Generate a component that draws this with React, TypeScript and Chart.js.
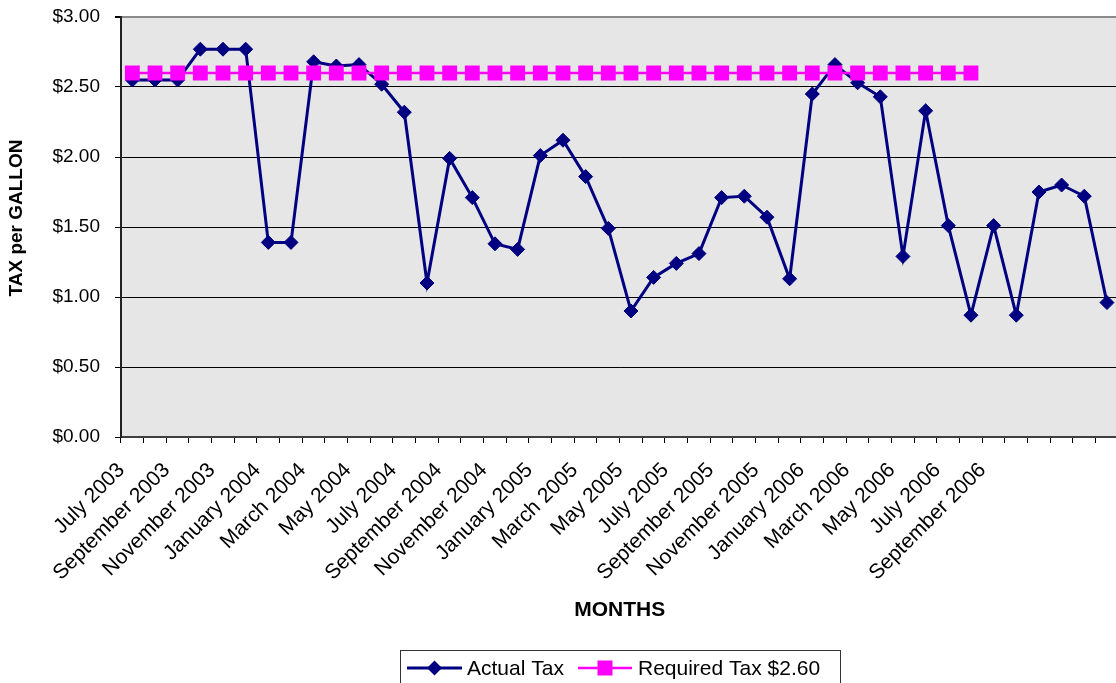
import React, { useEffect, useRef } from "react";
import { Chart, registerables } from "chart.js";

Chart.register(...registerables);

const categories: string[] = [
  "July 2003", "August 2003", "September 2003", "October 2003", "November 2003", "December 2003",
  "January 2004", "February 2004", "March 2004", "April 2004", "May 2004", "June 2004",
  "July 2004", "August 2004", "September 2004", "October 2004", "November 2004", "December 2004",
  "January 2005", "February 2005", "March 2005", "April 2005", "May 2005", "June 2005",
  "July 2005", "August 2005", "September 2005", "October 2005", "November 2005", "December 2005",
  "January 2006", "February 2006", "March 2006", "April 2006", "May 2006", "June 2006",
  "July 2006", "August 2006", "September 2006", "", "", "", "", "",
];

const actualTax: number[] = [
  2.55, 2.55, 2.55, 2.77, 2.77, 2.77, 1.39, 1.39, 2.68, 2.65, 2.66, 2.52,
  2.32, 1.10, 1.99, 1.71, 1.38, 1.34, 2.01, 2.12, 1.86, 1.49, 0.90, 1.14,
  1.24, 1.31, 1.71, 1.72, 1.57, 1.13, 2.45, 2.66, 2.53, 2.43, 1.29, 2.33,
  1.51, 0.87, 1.51, 0.87, 1.75, 1.80, 1.72, 0.96,
];

const requiredTax: (number | null)[] = [
  2.6, 2.6, 2.6, 2.6, 2.6, 2.6, 2.6, 2.6, 2.6, 2.6, 2.6, 2.6,
  2.6, 2.6, 2.6, 2.6, 2.6, 2.6, 2.6, 2.6, 2.6, 2.6, 2.6, 2.6,
  2.6, 2.6, 2.6, 2.6, 2.6, 2.6, 2.6, 2.6, 2.6, 2.6, 2.6, 2.6,
  2.6, 2.6, null, null, null, null, null, null,
];

const seriesNames = ["Actual Tax", "Required Tax $2.60"];
const xTitle = "MONTHS";
const yTitle = "TAX per GALLON";

const FONT = "'Liberation Sans', Arial, Helvetica, sans-serif";
const NAVY = "#000080";
const MAGENTA = "#FF00FF";

export default function App() {
  const ref = useRef<HTMLCanvasElement>(null);

  useEffect(() => {
    const canvas = ref.current;
    if (!canvas) return;

    const decor = {
      id: "decor",
      beforeDraw(chart: any) {
        const { ctx, chartArea: a } = chart;
        ctx.save();
        ctx.fillStyle = "#e6e6e6";
        ctx.fillRect(a.left, a.top, a.right - a.left, a.bottom - a.top);
        ctx.restore();
      },
      afterDraw(chart: any) {
        const { ctx, chartArea: a } = chart;
        ctx.save();
        ctx.fillStyle = "#000";
        ctx.font = `bold 19px ${FONT}`;
        ctx.textAlign = "center";
        ctx.textBaseline = "middle";
        ctx.translate(17, 218);
        ctx.rotate(-Math.PI / 2);
        ctx.fillText(yTitle, 0, 0);
        ctx.restore();

        ctx.save();
        ctx.fillStyle = "#000";
        ctx.font = `bold 21px ${FONT}`;
        ctx.textAlign = "center";
        ctx.textBaseline = "alphabetic";
        ctx.fillText(xTitle, (a.left + a.right) / 2, 616);
        ctx.restore();

        // Legend
        ctx.save();
        ctx.strokeStyle = "#333";
        ctx.lineWidth = 1;
        ctx.fillStyle = "#fff";
        ctx.fillRect(400.5, 650.5, 440, 50);
        ctx.strokeRect(400.5, 650.5, 440, 50);
        const ly = 668;
        ctx.strokeStyle = NAVY;
        ctx.lineWidth = 3;
        ctx.beginPath();
        ctx.moveTo(407, ly);
        ctx.lineTo(462, ly);
        ctx.stroke();
        ctx.fillStyle = NAVY;
        ctx.beginPath();
        const dx = 434.5, r = 7.5;
        ctx.moveTo(dx - r, ly);
        ctx.lineTo(dx, ly - r);
        ctx.lineTo(dx + r, ly);
        ctx.lineTo(dx, ly + r);
        ctx.closePath();
        ctx.fill();
        ctx.strokeStyle = MAGENTA;
        ctx.lineWidth = 2.5;
        ctx.beginPath();
        ctx.moveTo(578, ly);
        ctx.lineTo(632, ly);
        ctx.stroke();
        ctx.fillStyle = MAGENTA;
        ctx.fillRect(605 - 7.5, ly - 7.5, 15, 15);
        ctx.fillStyle = "#000";
        ctx.font = `21px ${FONT}`;
        ctx.textAlign = "left";
        ctx.textBaseline = "alphabetic";
        ctx.fillText(seriesNames[0], 467, 675);
        ctx.fillText(seriesNames[1], 638, 675);
        ctx.restore();
      },
    };

    const chart = new Chart(canvas, {
      type: "line",
      data: {
        labels: categories,
        datasets: [
          {
            label: seriesNames[0],
            data: actualTax,
            borderColor: NAVY,
            backgroundColor: NAVY,
            borderWidth: 3,
            pointStyle: "rectRot",
            pointRadius: 7,
            pointBorderWidth: 1,
            pointBackgroundColor: NAVY,
            pointBorderColor: NAVY,
            tension: 0,
            order: 1,
          },
          {
            label: seriesNames[1],
            data: requiredTax,
            borderColor: MAGENTA,
            backgroundColor: MAGENTA,
            borderWidth: 2.5,
            pointStyle: "rect",
            pointRadius: 10.5,
            pointBorderWidth: 0,
            pointBackgroundColor: MAGENTA,
            pointBorderColor: MAGENTA,
            tension: 0,
            spanGaps: false,
            order: 0,
          },
        ],
      },
      options: {
        animation: false,
        responsive: false,
        maintainAspectRatio: false,
        events: [],
        layout: { padding: { left: 0, top: 17, right: 20, bottom: 113 } },
        plugins: {
          legend: { display: false },
          tooltip: { enabled: false },
          title: { display: false },
        },
        scales: {
          x: {
            type: "category",
            offset: true,
            grid: {
              offset: true,
              drawOnChartArea: false,
              drawTicks: true,
              tickLength: 6,
              tickColor: "#000",
              tickWidth: 1,
            },
            border: { display: true, color: "#404040", width: 2 },
            ticks: {
              autoSkip: false,
              maxRotation: 45,
              minRotation: 45,
              padding: 15,
              labelOffset: -11,
              color: "#000",
              font: { family: FONT, size: 21 },
              callback: (_v: any, i: number) => (i % 2 === 0 ? categories[i] : ""),
            },
            afterFit: (scale: any) => {
              scale.height = 150;
              scale.paddingTop = 0;
              scale.paddingBottom = 0;
            },
          },
          y: {
            min: 0,
            max: 3,
            grid: {
              drawTicks: true,
              tickLength: 6,
              color: (c: any) => (c.tick && c.tick.value === 3 ? "#8a8a8a" : "#000"),
              lineWidth: (c: any) => (c.tick && c.tick.value === 3 ? 2 : 1),
              tickColor: "#000",
            },
            border: { display: true, color: "#222", width: 2 },
            ticks: {
              stepSize: 0.5,
              padding: 15,
              color: "#000",
              font: { family: FONT, size: 19 },
              callback: (v: any) => "$" + Number(v).toFixed(2),
            },
            afterFit: (scale: any) => {
              scale.width = 121;
              scale.paddingTop = 0;
              scale.paddingBottom = 0;
            },
          },
        },
      },
      plugins: [decor],
    } as any);

    return () => chart.destroy();
  }, []);

  return (
    <div
      style={{
        position: "fixed",
        left: 0,
        top: 0,
        width: 1116,
        height: 683,
        overflow: "hidden",
        background: "#fff",
      }}
    >
      <canvas ref={ref} width={1140} height={700} style={{ display: "block" }} />
    </div>
  );
}
